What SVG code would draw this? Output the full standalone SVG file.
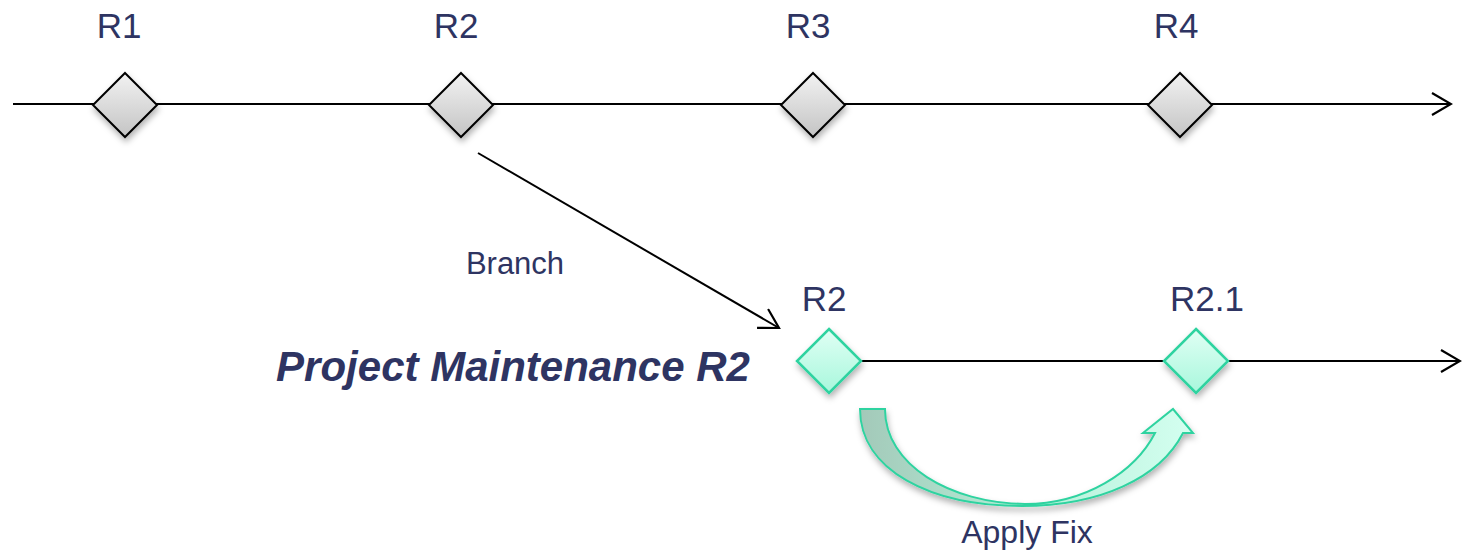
<svg xmlns="http://www.w3.org/2000/svg" width="1462" height="551" viewBox="0 0 1462 551">
<style>
.lbl{font-family:"Liberation Sans",Arial,sans-serif;fill:#2e3462;}
.ln{stroke:#000;stroke-width:2;fill:none;}
.gd{fill:url(#gGray);stroke:#000;stroke-width:2;filter:url(#sh);}
.td{fill:url(#gTeal);stroke:#2fd3a0;stroke-width:2.5;filter:url(#sh);}
</style>
<defs>
<linearGradient id="gGray" x1="0" y1="0" x2="0" y2="1"><stop offset="0" stop-color="#f2f2f2"/><stop offset="1" stop-color="#c4c4c4"/></linearGradient>
<linearGradient id="gTeal" x1="0" y1="0" x2="0" y2="1"><stop offset="0" stop-color="#e0fff4"/><stop offset="1" stop-color="#a8f7dc"/></linearGradient>
<linearGradient id="gArc" x1="0" y1="0" x2="1" y2="0"><stop offset="0" stop-color="#a3c9b9"/><stop offset="0.5" stop-color="#b5efd8"/><stop offset="1" stop-color="#d4fff0"/></linearGradient>
<filter id="sh" x="-30%" y="-30%" width="160%" height="170%"><feDropShadow dx="1" dy="4" stdDeviation="3" flood-color="#000" flood-opacity="0.3"/></filter>
<marker id="op" viewBox="0 0 22 24" refX="20" refY="12" markerWidth="22" markerHeight="24" markerUnits="userSpaceOnUse" orient="auto"><path d="M1,1 L20,12 L1,23" fill="none" stroke="#000" stroke-width="2.2"/></marker>
</defs>
<g id="connectors">
<line class="ln" x1="13" y1="104" x2="1451" y2="104" marker-end="url(#op)"/>
<line class="ln" x1="861" y1="361" x2="1460" y2="361" marker-end="url(#op)"/>
<line class="ln" x1="478" y1="153" x2="779" y2="328" marker-end="url(#op)"/>
</g>
<g id="R1"><path class="gd" d="M125,73 L157,105 L125,137 L93,105 Z"/><text class="lbl" x="119" y="38" font-size="35" text-anchor="middle">R1</text></g>
<g id="R2"><path class="gd" d="M461,73 L493,105 L461,137 L429,105 Z"/><text class="lbl" x="456" y="38" font-size="35" text-anchor="middle">R2</text></g>
<g id="R3"><path class="gd" d="M813,73 L845,105 L813,137 L781,105 Z"/><text class="lbl" x="808" y="38" font-size="35" text-anchor="middle">R3</text></g>
<g id="R4"><path class="gd" d="M1180,73 L1212,105 L1180,137 L1148,105 Z"/><text class="lbl" x="1176" y="38" font-size="35" text-anchor="middle">R4</text></g>
<g id="branch-label"><text class="lbl" x="515" y="274" font-size="31" text-anchor="middle">Branch</text></g>
<g id="title"><text class="lbl" x="513" y="381" font-size="42" font-weight="bold" font-style="italic" text-anchor="middle">Project Maintenance R2</text></g>
<g id="B-R2"><path class="td" d="M829,329 L861,361 L829,393 L797,361 Z"/><text class="lbl" x="824" y="311" font-size="35" text-anchor="middle">R2</text></g>
<g id="B-R21"><path class="td" d="M1196,329 L1228,361 L1196,393 L1164,361 Z"/><text class="lbl" x="1207" y="311" font-size="35" text-anchor="middle">R2.1</text></g>
<g id="apply-fix">
<path d="M860,409 L885,409 C885,465 950,503 1025,504 C1085,504 1135,472 1155,433 L1143,433 L1173,409 L1193,433 L1183,433 C1160,478 1100,506 1022,506 C930,506 860,470 860,409 Z" fill="url(#gArc)" stroke="#2fd3a0" stroke-width="2" filter="url(#sh)"/>
<text class="lbl" x="1027" y="543" font-size="32" text-anchor="middle">Apply Fix</text>
</g>
</svg>
